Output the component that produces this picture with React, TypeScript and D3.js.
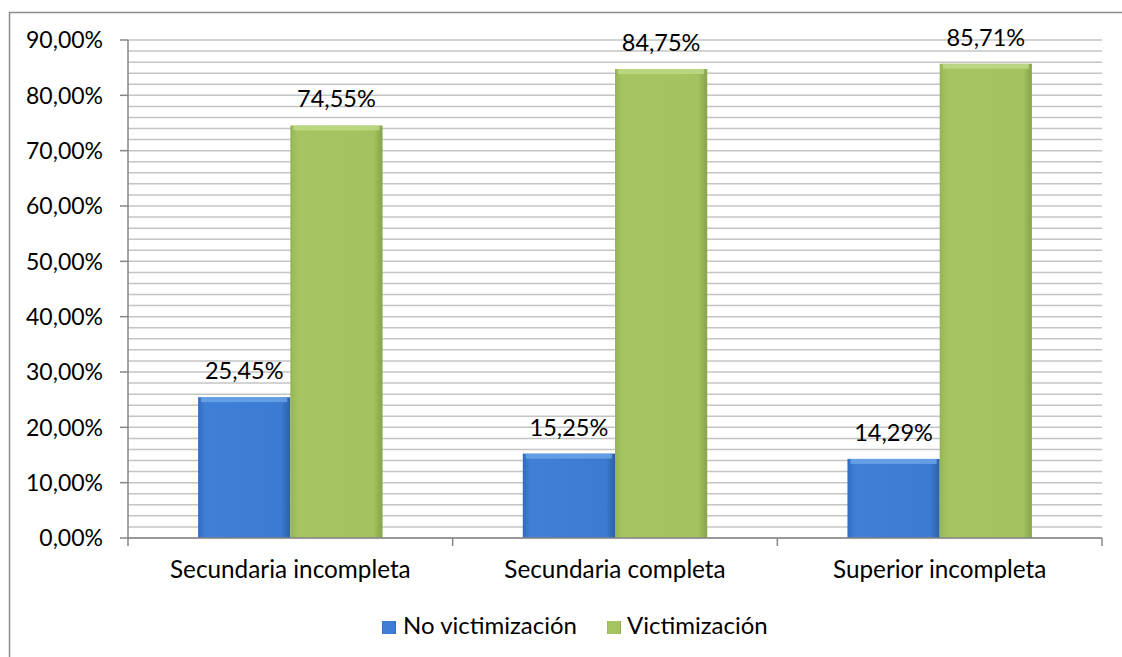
import React from "react";
import * as d3 from "d3";

const categories = ["Secundaria incompleta", "Secundaria completa", "Superior incompleta"];
const seriesNames = ["No victimización", "Victimización"];
const noVictimizacion = [25.45, 15.25, 14.29];
const victimizacion = [74.55, 84.75, 85.71];
const yTicks = [0, 10, 20, 30, 40, 50, 60, 70, 80, 90];

const W = 1122, H = 657;
const left = 128, right = 1102, top = 40, bottom = 538;

export default function App() {
  const x = d3.scaleBand().domain(categories).range([left, right]).paddingInner(0).paddingOuter(0);
  const y = d3.scaleLinear().domain([0, 90]).range([bottom, top]);
  const minor = d3.range(0, 90.001, 2);
  const bw = x.bandwidth() * 0.284;
  const fmt = (v: number) => v.toFixed(2).replace(".", ",") + "%";
  const series = [noVictimizacion, victimizacion];
  const colors = ["url(#gBlue)", "url(#gGreen)"];
  const font = "Lato, 'Open Sans', sans-serif";
  return (
    <svg width={W} height={H} style={{ position: "absolute", left: 0, top: 0 }} fontFamily={font}>
      <defs>
        <linearGradient id="gBlue" x1="0" x2="1" y1="0" y2="0">
          <stop offset="0" stopColor="#2f6cc0" />
          <stop offset="0.08" stopColor="#3f80d6" />
          <stop offset="0.9" stopColor="#3b7bd2" />
          <stop offset="1" stopColor="#2c5fa6" />
        </linearGradient>
        <linearGradient id="gGreen" x1="0" x2="1" y1="0" y2="0">
          <stop offset="0" stopColor="#93b552" />
          <stop offset="0.08" stopColor="#a6c562" />
          <stop offset="0.9" stopColor="#a4c360" />
          <stop offset="1" stopColor="#86a448" />
        </linearGradient>
      </defs>
      <rect x={0} y={0} width={W} height={H} fill="#fff" />
      <path d={`M9.5,${H} V12.5 H${W}`} fill="none" stroke="#8c8c8c" strokeWidth={1.5} />
      {minor.map((v) => (
        <line key={v} x1={left} x2={right} y1={y(v)} y2={y(v)} stroke="#c4c4c4" strokeWidth={1.5} />
      ))}
      {categories.map((c, i) =>
        series.map((s, j) => {
          const x0 = (x(c) as number) + x.bandwidth() / 2 - bw + j * bw;
          const yv = y(s[i]);
          return (
            <g key={c + j}>
              <rect x={x0} y={yv} width={bw} height={bottom - yv} fill={colors[j]} />
              <rect x={x0 + 3} y={yv} width={bw - 6} height={5} fill={j === 0 ? "#6ea6ea" : "#c0d98a"} opacity={0.8} />
              <text x={x0 + bw / 2} y={yv - 18} textAnchor="middle" fontSize={23.5} fill="#000">
                {fmt(s[i])}
              </text>
            </g>
          );
        })
      )}
      <line x1={left} x2={left} y1={top} y2={bottom} stroke="#868686" strokeWidth={1.5} />
      <line x1={left} x2={right} y1={bottom} y2={bottom} stroke="#868686" strokeWidth={1.5} />
      {yTicks.map((t) => (
        <g key={t}>
          <line x1={left - 8} x2={left} y1={y(t)} y2={y(t)} stroke="#868686" strokeWidth={1.5} />
          <text x={103} y={y(t)} dy="0.36em" textAnchor="end" fontSize={23} fill="#000">
            {fmt(t)}
          </text>
        </g>
      ))}
      {[...categories.map((c) => x(c) as number), right].map((v, i) => (
        <line key={i} x1={v} x2={v} y1={bottom} y2={bottom + 8} stroke="#868686" strokeWidth={1.5} />
      ))}
      {categories.map((c) => (
        <text key={c} x={(x(c) as number) + x.bandwidth() / 2} y={578} textAnchor="middle" fontSize={24.3} fill="#000">
          {c}
        </text>
      ))}
      <g>
        <rect x={382} y={621} width={14} height={13} fill="url(#gBlue)" />
        <text x={403} y={634} fontSize={24} fill="#000">{seriesNames[0]}</text>
        <rect x={607} y={621} width={14} height={13} fill="url(#gGreen)" />
        <text x={627} y={634} fontSize={24} fill="#000">{seriesNames[1]}</text>
      </g>
    </svg>
  );
}
